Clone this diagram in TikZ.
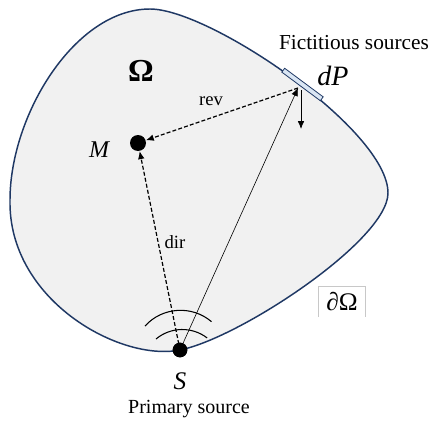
\documentclass[tikz,border=0pt]{standalone}
\usepackage{fontspec}
\setmainfont{Liberation Serif}
\usetikzlibrary{arrows.meta}
\definecolor{outline}{RGB}{31,56,100}
\definecolor{fillc}{RGB}{241,241,241}
\definecolor{dpfill}{RGB}{218,230,244}
\definecolor{boxgray}{RGB}{200,200,200}
\begin{document}
\begin{tikzpicture}[x=0.75pt,y=-0.75pt,
  dotnode/.style={circle, fill=black, inner sep=0pt},
  lbl/.style={inner sep=0pt},
  tip/.style={-{Latex[length=6pt,width=5pt]}},
  dashline/.style={dashed, dash pattern=on 3pt off 1.6pt, line width=0.9pt}]
\useasboundingbox (0,0) rectangle (432,421);
% domain
\draw[outline, line width=1.1pt, fill=fillc]
  (150,9) .. controls (210,9) and (388,130) .. (388,193)
          .. controls (388,240) and (240,338) .. (180,350)
          .. controls (120,362) and (8,300) .. (10,200)
          .. controls (10,115) and (75,9) .. cycle;
% fictitious source element
\node[draw=outline, fill=dpfill, line width=0.6pt, rotate=-36.6, minimum width=36pt, minimum height=3.6pt, inner sep=0pt] (dp) at (302.5,84.5) {};
\coordinate (P) at (298,88);
\coordinate (N) at (301,129);
% points
\node[dotnode, minimum size=12pt] (M) at (138,143) {};
\node[dotnode, minimum size=11pt] (S) at (180,350) {};
% wave arcs
\draw[line width=0.8pt] (145,326) arc[start angle=-137.7, end angle=-49.8, radius=48];
\draw[line width=0.8pt] (156,339) arc[start angle=-129.8, end angle=-52.6, radius=41];
% connectors
\draw[tip, line width=0.45pt] (S.center) -- (P);
\draw[tip, dashline] (P) -- (M);
\draw[tip, dashline] (S.center) -- (M);
\draw[tip, line width=0.6pt] (301,90) -- (N);
\node[dotnode, minimum size=11pt] at (S) {};
% labels
\node[lbl, font=\bfseries\fontsize{24}{26}\selectfont] (om) at (141,71) {Ω};
\node[lbl, font=\fontsize{14}{16}\selectfont] (rev) at (211,101) {rev};
\node[lbl, font=\fontsize{14}{16}\selectfont] (dir) at (175,242) {dir};
\node[lbl, font=\itshape\fontsize{18}{20}\selectfont] (ml) at (99,150) {M};
\node[lbl, font=\itshape\fontsize{19}{21}\selectfont] (sl) at (180,381) {S};
\node[lbl, font=\fontsize{15}{17}\selectfont] (ps) at (189,409) {Primary source};
\node[lbl, font=\fontsize{16}{18}\selectfont] (fs) at (354,43) {Fictitious sources};
\node[lbl, font=\itshape\fontsize{21}{23}\selectfont] (dpl) at (333,76) {dP};
\node[inner sep=0pt, minimum width=34.5pt, minimum height=23pt] (bd) at (342,301.5) {\fontsize{19}{21}\selectfont ∂Ω};
\draw[boxgray, line width=0.5pt] (bd.south west) -- (bd.north west) -- (bd.north east) -- (bd.south east);
\end{tikzpicture}
\end{document}
